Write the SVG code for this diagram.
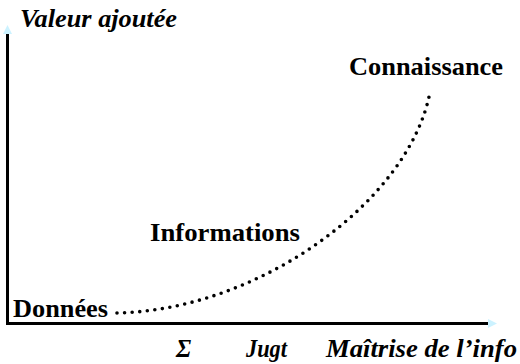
<svg xmlns="http://www.w3.org/2000/svg" width="520" height="364" viewBox="0 0 520 364">
<defs>
<style>
.t{font-family:'Liberation Serif','Times New Roman',serif;font-weight:700;fill:#000;font-size:24.5px}
.i{font-style:italic}
.ax{stroke:#000;stroke-width:3;fill:none}
.head{fill:#ccf2ff}
.dots{fill:none;stroke:#000;stroke-width:3.6;stroke-linecap:round;stroke-dasharray:0 7.6}
</style>
</defs>
<rect width="520" height="364" fill="#fff"/>
<g id="axes">
<line class="ax" x1="7.5" y1="325" x2="7.5" y2="34"/>
<polygon class="head" points="7.5,25 3,34 12,34"/>
<line class="ax" x1="6" y1="323.5" x2="488" y2="323.5"/>
<polygon class="head" points="497,323.5 488,319 488,328"/>
</g>
<g id="connectors">
<path class="dots" d="M117,313 C260,310 410,200 430,92"/>
</g>
<g id="y-label"><text class="t i" x="20" y="27" textLength="157" lengthAdjust="spacingAndGlyphs">Valeur ajoutée</text></g>
<g id="connaissance"><text class="t" x="349" y="75" textLength="154" lengthAdjust="spacingAndGlyphs">Connaissance</text></g>
<g id="informations"><text class="t" x="150" y="241" textLength="150" lengthAdjust="spacingAndGlyphs">Informations</text></g>
<g id="donnees"><text class="t" x="13" y="317" textLength="95" lengthAdjust="spacingAndGlyphs">Données</text></g>
<g id="x-labels">
<text class="t i" x="176" y="357">Σ</text>
<text class="t i" x="246" y="357" textLength="41" lengthAdjust="spacingAndGlyphs">Jugt</text>
<text class="t i" x="326" y="357" textLength="191" lengthAdjust="spacingAndGlyphs">Maîtrise de l’info</text>
</g>
</svg>
